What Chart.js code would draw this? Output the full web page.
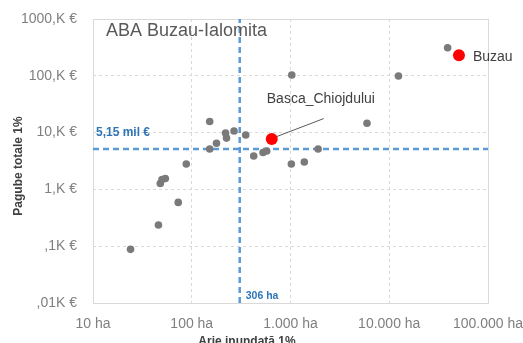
<!DOCTYPE html>
<html>
<head>
<meta charset="utf-8">
<script src="https://cdn.jsdelivr.net/npm/chart.js@4"></script>
<style>
  body { margin: 0; background: #fff; }
</style>
</head>
<body>
<canvas id="chart" width="523" height="343"></canvas>
<script>
// data (x = ha, y = K €)
const grayX = [24, 46, 73, 48, 50, 54, 88, 152, 152, 178, 220, 225, 268, 352, 424, 527, 574, 1030, 1020, 1380, 1905, 5950, 12400, 39000];
const grayY = [0.088, 0.236, 0.59, 1.27, 1.49, 1.56, 2.8, 15.7, 5.15, 6.5, 9.8, 8.0, 10.7, 9.1, 3.87, 4.47, 4.74, 103, 2.8, 3.04, 5.15, 14.6, 99, 312];
const redX = [646, 50800];
const redY = [7.7, 229];
const redNames = ['Basca_Chiojdului', 'Buzau'];

const xTickValues = [10, 100, 1000, 10000, 100000];
const xTickLabels = ['10 ha', '100 ha', '1.000 ha', '10.000 ha', '100.000 ha'];
const yTickValues = [0.01, 0.1, 1, 10, 100, 1000];
const yTickLabels = [',01K €', ',1K €', '1,K €', '10,K €', '100,K €', '1000,K €'];

const thresholdX = 306;
const thresholdY = 5.15;
const thresholdXLabel = '306 ha';
const thresholdYLabel = '5,15 mil €';

const chartTitle = 'ABA Buzau-Ialomita';
const xTitle = 'Arie inundată 1%';
const yTitle = 'Pagube totale 1%';

const FONT = "'Liberation Sans', Arial, sans-serif";
const BLUE = '#5b9bd5';

function pts(xs, ys) { return xs.map((x, i) => ({ x: x, y: ys[i] })); }

// no extra room for half tick labels, layout padding decides the plot box
function noPad(s) { s.paddingLeft = 0; s.paddingRight = 0; s.paddingTop = 0; s.paddingBottom = 0; }

// text, frame and callouts drawn on top of the plot
const decor = {
  id: 'decor',
  beforeDatasetsDraw(chart) {
    const a = chart.chartArea, ctx = chart.ctx;
    ctx.save();
    ctx.strokeStyle = '#d9d9d9';
    ctx.lineWidth = 1;
    ctx.strokeRect(Math.round(a.left) + 0.5, Math.round(a.top) + 0.5, Math.round(a.right - a.left), Math.round(a.bottom - a.top));
    ctx.restore();
  },
  afterDatasetsDraw(chart) {
    const ctx = chart.ctx, xs = chart.scales.x, ys = chart.scales.y;
    ctx.save();
    // title inside plot
    ctx.fillStyle = '#595959';
    ctx.font = '18px ' + FONT;
    ctx.textBaseline = 'alphabetic';
    ctx.textAlign = 'left';
    ctx.fillText(chartTitle, 106, 36);

    // threshold labels
    ctx.fillStyle = '#2e75b6';
    ctx.font = 'bold 12px ' + FONT;
    ctx.fillText(thresholdYLabel, 96, ys.getPixelForValue(thresholdY) - 12.5);
    ctx.font = 'bold 10.5px ' + FONT;
    ctx.fillText(thresholdXLabel, xs.getPixelForValue(thresholdX) + 6, 298.5);

    // point callouts
    const pb = chart.getDatasetMeta(0).data;
    ctx.fillStyle = '#404040';
    ctx.font = '14px ' + FONT;
    // Basca_Chiojdului with leader line
    const p0 = pb[0];
    ctx.strokeStyle = '#595959';
    ctx.lineWidth = 1;
    ctx.beginPath();
    ctx.moveTo(p0.x + 5, p0.y - 2.5);
    ctx.lineTo(p0.x + 52, p0.y - 20.5);
    ctx.stroke();
    ctx.fillText(redNames[0], p0.x - 5, p0.y - 36);
    // Buzau
    const p1 = pb[1];
    ctx.fillText(redNames[1], p1.x + 14, p1.y + 6);

    // axis titles
    ctx.fillStyle = '#404040';
    ctx.font = 'bold 12px ' + FONT;
    ctx.textAlign = 'center';
    ctx.fillText(xTitle, 247, 345);
    ctx.translate(22, (chart.chartArea.top + chart.chartArea.bottom) / 2 + 5);
    ctx.rotate(-Math.PI / 2);
    ctx.fillText(yTitle, 0, 0);
    ctx.restore();
  }
};

new Chart(document.getElementById('chart'), {
  type: 'scatter',
  data: {
    datasets: [
      {
        data: pts(redX, redY),
        backgroundColor: '#ff0000',
        borderWidth: 0,
        pointRadius: 6,
        order: 0
      },
      {
        data: pts(grayX, grayY),
        backgroundColor: '#7a7a7a',
        borderWidth: 0,
        pointRadius: 3.8,
        order: 1
      },
      {
        data: [{ x: xTickValues[0], y: thresholdY }, { x: xTickValues[xTickValues.length - 1], y: thresholdY }],
        showLine: true,
        borderColor: BLUE,
        borderWidth: 2.5,
        borderDash: [6, 4],
        pointRadius: 0,
        order: 2
      },
      {
        data: [{ x: thresholdX, y: yTickValues[0] }, { x: thresholdX, y: yTickValues[yTickValues.length - 1] }],
        showLine: true,
        borderColor: BLUE,
        borderWidth: 2.5,
        borderDash: [6, 4],
        pointRadius: 0,
        order: 3
      }
    ]
  },
  options: {
    responsive: false,
    animation: false,
    layout: { padding: { top: 19, right: 35, left: 0, bottom: 0 } },
    plugins: {
      legend: { display: false },
      tooltip: { enabled: false }
    },
    scales: {
      x: {
        type: 'logarithmic',
        min: xTickValues[0],
        max: xTickValues[xTickValues.length - 1],
        afterBuildTicks: s => { s.ticks = xTickValues.map(v => ({ value: v })); },
        afterFit: s => { s.height = 40; noPad(s); },
        grid: { color: '#d9d9d9', drawTicks: false },
        border: { display: false, dash: [3, 3] },
        ticks: {
          autoSkip: false,
          maxRotation: 0,
          padding: 13,
          color: '#7f7f7f',
          font: { family: FONT, size: 14 },
          callback: (v, i) => xTickLabels[i]
        }
      },
      y: {
        type: 'logarithmic',
        min: yTickValues[0],
        max: yTickValues[yTickValues.length - 1],
        afterBuildTicks: s => { s.ticks = yTickValues.map(v => ({ value: v })); },
        afterFit: s => { s.width = 93; noPad(s); },
        grid: { color: '#d9d9d9', drawTicks: false },
        border: { display: false, dash: [3, 3] },
        ticks: {
          autoSkip: false,
          padding: 16,
          color: '#7f7f7f',
          font: { family: FONT, size: 14 },
          callback: (v, i) => yTickLabels[i]
        }
      }
    }
  },
  plugins: [decor]
});
</script>
</body>
</html>
